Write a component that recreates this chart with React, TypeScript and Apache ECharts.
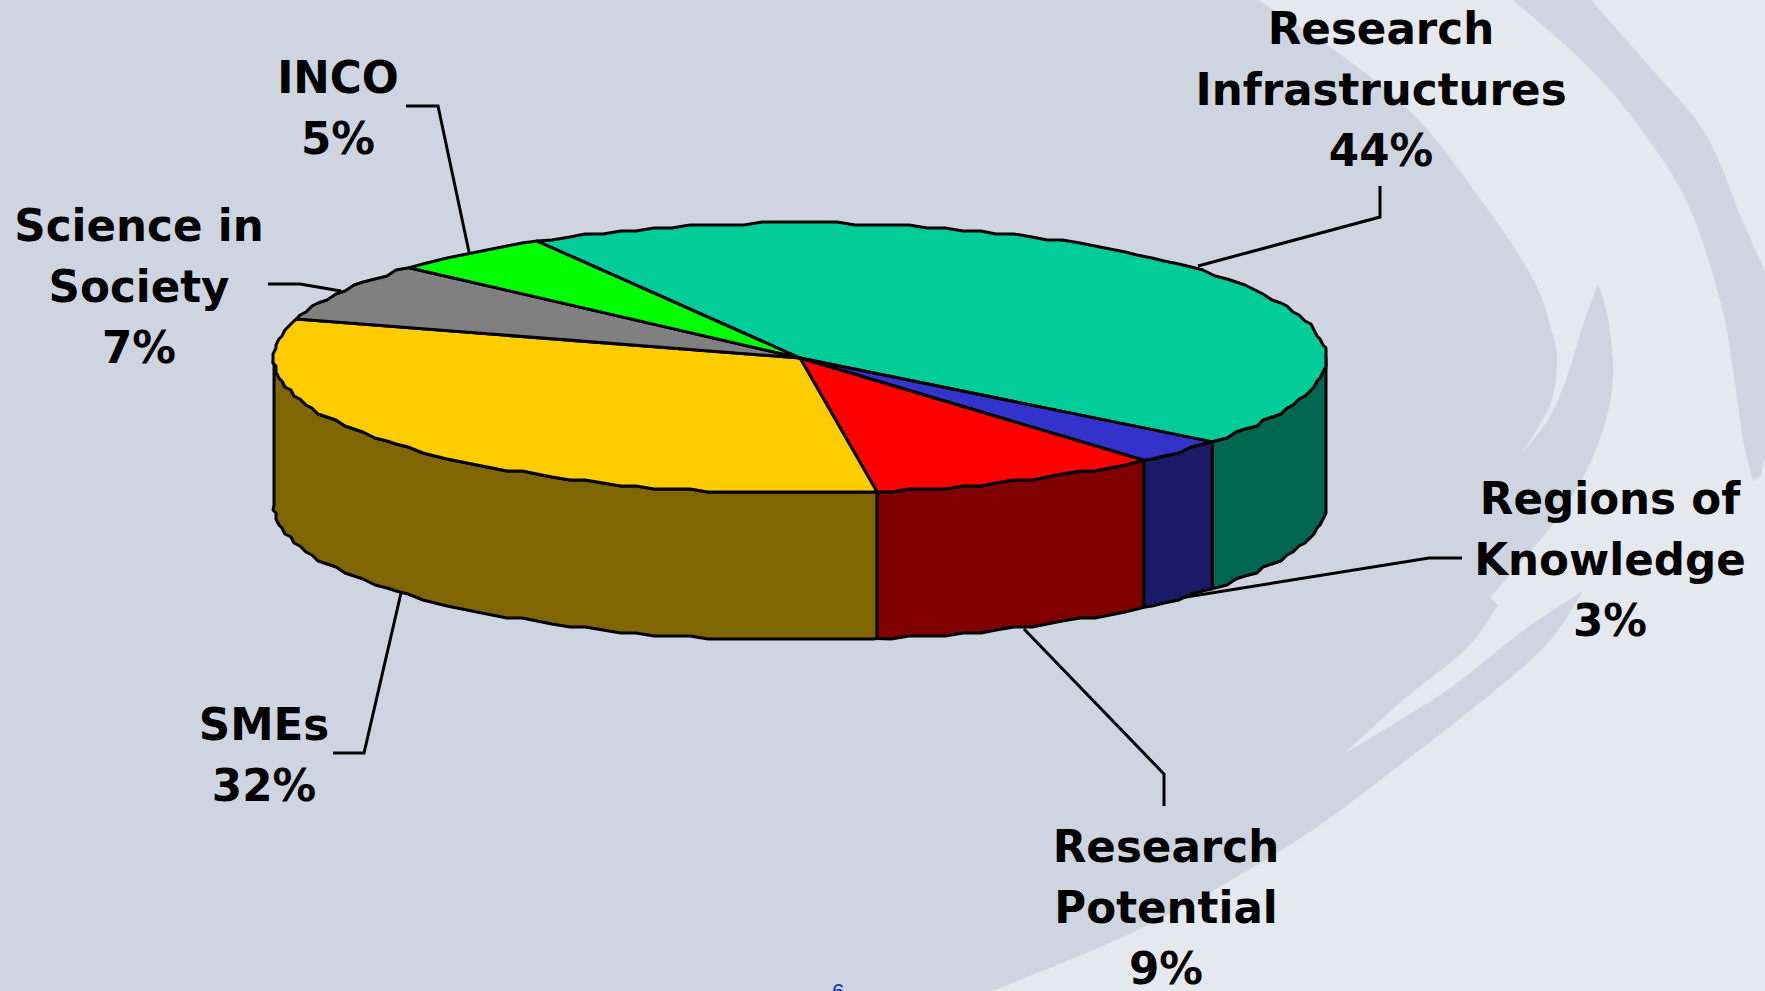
import React, { useEffect, useRef } from "react";
import * as echarts from "echarts";

// ---- data ----
const categories = ["Research\nInfrastructures", "Regions of\nKnowledge", "Research\nPotential", "SMEs", "Science in\nSociety", "INCO"];
const shares = [44, 3, 9, 32, 7, 5];
const topColors = ["#00CC99", "#3333CC", "#FF0000", "#FFCC00", "#808080", "#00FF00"];
const sideColors = ["#006650", "#1A1A66", "#800000", "#806600", "#404040", "#008000"];
const labelCentres = [[1381, 90], [1610, 560], [1166, 908], [264, 755], [139, 287], [338, 108]];
const leaders = [
  [[1380, 186], [1380, 217], [1198, 266]],
  [[1462, 558], [1429, 558], [1180, 598]],
  [[1164, 806], [1164, 774], [1024, 629]],
  [[333, 753], [364, 753], [401, 593]],
  [[268, 284], [300, 284], [341, 291]],
  [[406, 106], [438, 106], [469, 252]],
];

// ---- geometry of the tilted pie ----
const CX = 800, CY = 358, RX = 526, RY = 135, DEPTH = 147;
const START_DEG = -30;
const GRID = 3;
const STEP = 2;

const snap = (v: number) => Math.round(v / GRID) * GRID;
const rimPoint = (deg: number, dy = 0): number[] => {
  const r = (deg * Math.PI) / 180;
  return [CX + RX * Math.sin(r), CY - RY * Math.cos(r) + dy];
};
const rim = (a: number, b: number, dy = 0): number[][] => {
  const pts: number[][] = [rimPoint(a, dy)];
  for (let d = Math.ceil(a / STEP + 0.01) * STEP; d < b; d += STEP) {
    const p = rimPoint(d, dy);
    pts.push([snap(p[0]), snap(p[1])]);
  }
  pts.push(rimPoint(b, dy));
  return pts;
};

// ---- background swooshes ----
const smooth = (p: number[][]): string => {
  let d = "";
  for (let i = 0; i < p.length - 1; i++) {
    const a = p[Math.max(i - 1, 0)], b = p[i], c = p[i + 1], e = p[Math.min(i + 2, p.length - 1)];
    d += ` C${b[0] + (c[0] - a[0]) / 6},${b[1] + (c[1] - a[1]) / 6} ${c[0] - (e[0] - b[0]) / 6},${c[1] - (e[1] - b[1]) / 6} ${c[0]},${c[1]}`;
  }
  return d;
};
const darkPath =
  "M0,0 L1258,0" +
  smooth([[1258, 0], [1344, 57], [1416, 117], [1481, 200], [1533, 279], [1552, 332], [1557, 363], [1550, 405], [1522, 453]]) +
  smooth([[1522, 453], [1548, 420], [1567, 377], [1583, 325], [1598, 284]]) +
  smooth([[1598, 284], [1608, 318], [1613, 377], [1603, 430], [1580, 483], [1550, 528], [1520, 563], [1490, 598]]) +
  " L1498,605" +
  smooth([[1498, 605], [1467, 648], [1403, 700], [1345, 753]]) +
  smooth([[1345, 753], [1387, 728], [1453, 686], [1520, 633], [1583, 591]]) +
  smooth([[1583, 591], [1547, 644], [1487, 697], [1400, 765], [1293, 843], [1146, 926], [1000, 988], [990, 991]]) +
  " L0,991 Z";
const swooshPath =
  "M1513,0" +
  smooth([[1513, 0], [1578, 57], [1632, 117], [1686, 200], [1720, 300], [1733, 370], [1743, 440], [1753, 481]]) +
  " L1760,476 L1765,458 L1765,272" +
  smooth([[1765, 272], [1741, 217], [1705, 133], [1650, 67], [1591, 0]]) +
  " Z";
echarts.graphic.registerShape("bgDark", echarts.graphic.extendPath(darkPath, {}));
echarts.graphic.registerShape("bgSwoosh", echarts.graphic.extendPath(swooshPath, {}));

const FONT = '"DejaVu Sans", sans-serif';
const EDGE = { stroke: "#000000", lineWidth: 3, lineJoin: "round" };

export default function App() {
  const ref = useRef<HTMLDivElement>(null);
  useEffect(() => {
    document.body.style.margin = "0";
    document.body.style.overflow = "hidden";
    const chart = echarts.init(ref.current!, null, { renderer: "svg" });
    const total = shares.reduce((s, v) => s + v, 0);

    const renderItem = (params: any, api: any) => {
      const i = params.dataIndex;
      let before = 0;
      for (let k = 0; k < i; k++) before += shares[k];
      const a = START_DEG + (before / total) * 360;
      const b = a + (api.value(0) / total) * 360;
      const children: any[] = [];
      const from = Math.max(a, 90), to = Math.min(b, 270);
      if (to > from) {
        const upper = rim(from, to);
        const lower = rim(from, to, DEPTH).reverse();
        children.push({
          type: "polygon",
          shape: { points: upper.concat(lower) },
          style: { fill: sideColors[i], ...EDGE },
        });
      }
      children.push({
        type: "polygon",
        shape: { points: [[CX, CY], ...rim(a, b)] },
        style: { fill: topColors[i], ...EDGE },
      });
      return { type: "group", children };
    };

    const elements: any[] = [
      { type: "rect", z: -3, shape: { x: 0, y: 0, width: 1765, height: 991 }, style: { fill: "#E5E8EE" } },
      { type: "bgDark", z: -2, style: { fill: "#CFD4E1" } },
      { type: "bgSwoosh", z: -2, style: { fill: "#D0D5E2" } },
    ];
    leaders.forEach((pts) =>
      elements.push({
        type: "polyline",
        z: 10,
        shape: { points: pts },
        style: { stroke: "#000000", lineWidth: 3, fill: "none" },
      })
    );
    categories.forEach((name, i) =>
      elements.push({
        type: "text",
        z: 11,
        x: labelCentres[i][0],
        y: labelCentres[i][1],
        style: {
          text: `${name}\n${shares[i]}%`,
          font: `bold 43.6px ${FONT}`,
          fill: "#000000",
          align: "center",
          verticalAlign: "middle",
          lineHeight: 61,
        },
      })
    );
    elements.push({
      type: "text",
      z: 11,
      x: 838,
      y: 980,
      style: { text: "6", font: `22px "Liberation Sans", sans-serif`, fill: "#0033AA", align: "center", verticalAlign: "top" },
    });

    chart.setOption({
      animation: false,
      graphic: { elements },
      series: [
        {
          type: "custom",
          coordinateSystem: "none",
          z: 5,
          silent: true,
          data: shares.map((v, i) => ({ name: categories[i].replace("\n", " "), value: [v] })),
          renderItem,
        },
      ],
    });
    return () => chart.dispose();
  }, []);
  return <div ref={ref} style={{ width: 1765, height: 991 }} />;
}
